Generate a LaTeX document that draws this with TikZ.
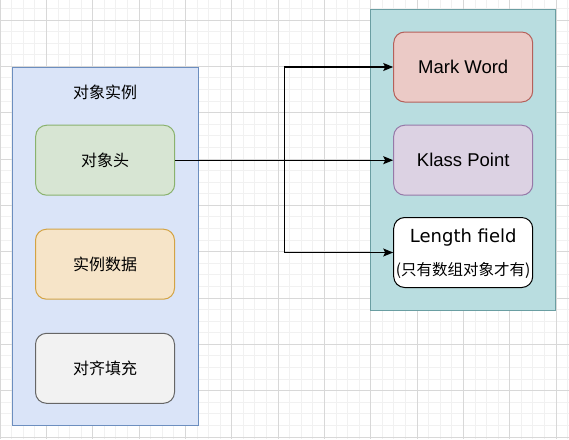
\documentclass[tikz,border=0pt]{standalone}
\usepackage{fontspec}
\setmainfont{Liberation Sans}
\newfontfamily\cjk{Noto Sans CJK SC}
\newfontfamily\dvsans{DejaVu Sans}
\usetikzlibrary{arrows.meta, positioning}

\definecolor{gridmin}{HTML}{F1F1F1}
\definecolor{gridmaj}{HTML}{D8D8D8}
\definecolor{instfill}{HTML}{DAE4F8}
\definecolor{instline}{HTML}{6C8EBF}
\definecolor{headfill}{HTML}{D7E5D3}
\definecolor{headline}{HTML}{8AB26E}
\definecolor{datafill}{HTML}{F6E4C8}
\definecolor{dataline}{HTML}{D3A344}
\definecolor{padfill}{HTML}{F2F2F2}
\definecolor{padline}{HTML}{666666}
\definecolor{objfill}{HTML}{B9DDE0}
\definecolor{objline}{HTML}{6A9EA2}
\definecolor{markfill}{HTML}{EBCAC6}
\definecolor{markline}{HTML}{B5605A}
\definecolor{klassfill}{HTML}{DCD2E3}
\definecolor{klassline}{HTML}{9679A8}

\begin{document}
\begin{tikzpicture}[x=1pt,y=-1pt,
	gridminor/.style={draw=gridmin, line width=0.8pt},
	gridmajor/.style={draw=gridmaj, line width=0.8pt},
	frame/.style={draw, line width=1pt, inner sep=0pt},
	part/.style={draw, line width=1pt, rounded corners=11pt, minimum width=139pt, minimum height=70pt, inner sep=0pt},
	cn/.style={font=\cjk\fontsize{16}{18}\selectfont},
	en/.style={font=\fontsize{18.5}{20}\selectfont},
	link/.style={line width=1.2pt, -{Stealth[length=10pt,width=8pt,inset=2pt]}}]
	\useasboundingbox (0,0) rectangle (569,439);
	\fill[white] (0,0) rectangle (569,439);
	% background grid
	\foreach \i in {0,...,49}
		\draw[gridminor] (\i*11.583,0) -- (\i*11.583,439);
	\foreach \j in {0,...,37}
		\draw[gridminor] (0,8.4+\j*11.583) -- (569,8.4+\j*11.583);
	\foreach \i in {0,...,12}
		\draw[gridmajor] (\i*46.333,0) -- (\i*46.333,439);
	\foreach \j in {0,...,9}
		\draw[gridmajor] (0,20+\j*46.333) -- (569,20+\j*46.333);

	% object instance
	\node[frame, draw=instline, fill=instfill, minimum width=186pt, minimum height=358.7pt] (inst) at (105,246.6) {};
	\node[cn] (instTitle) at (105,92) {对象实例};
	\node[part, cn, draw=headline, fill=headfill] (head) at (105.2,160.2) {对象头};
	\node[part, cn, draw=dataline, fill=datafill] (data) at (105,264.2) {实例数据};
	\node[part, cn, draw=padline, fill=padfill] (pad) at (105,368.3) {对齐填充};

	% object header
	\node[frame, draw=objline, fill=objfill, minimum width=185.3pt, minimum height=300.7pt] (obj) at (463.3,159.7) {};
	\node[part, en, draw=markline, fill=markfill] (mark) at (463.2,67) {Mark Word};
	\node[part, en, draw=klassline, fill=klassfill] (klass) at (463.2,160.2) {Klass Point};
	\node[part, draw=black, fill=white] (len) at (463.2,252.5) {};
	\node[font=\dvsans\fontsize{18}{20}\selectfont] (lenTitle) at (463.2,237.5) {Length field};
	\node[font=\cjk\fontsize{15.5}{17}\selectfont] (lenNote) at (463.2,270.7) {(只有数组对象才有)};

	\coordinate (fork) at (284.3,160.2);
	\draw[link] (head.east) -- (klass.west);
	\draw[link] (fork) |- (mark.west);
	\draw[link] (fork) |- (len.west);
\end{tikzpicture}
\end{document}
